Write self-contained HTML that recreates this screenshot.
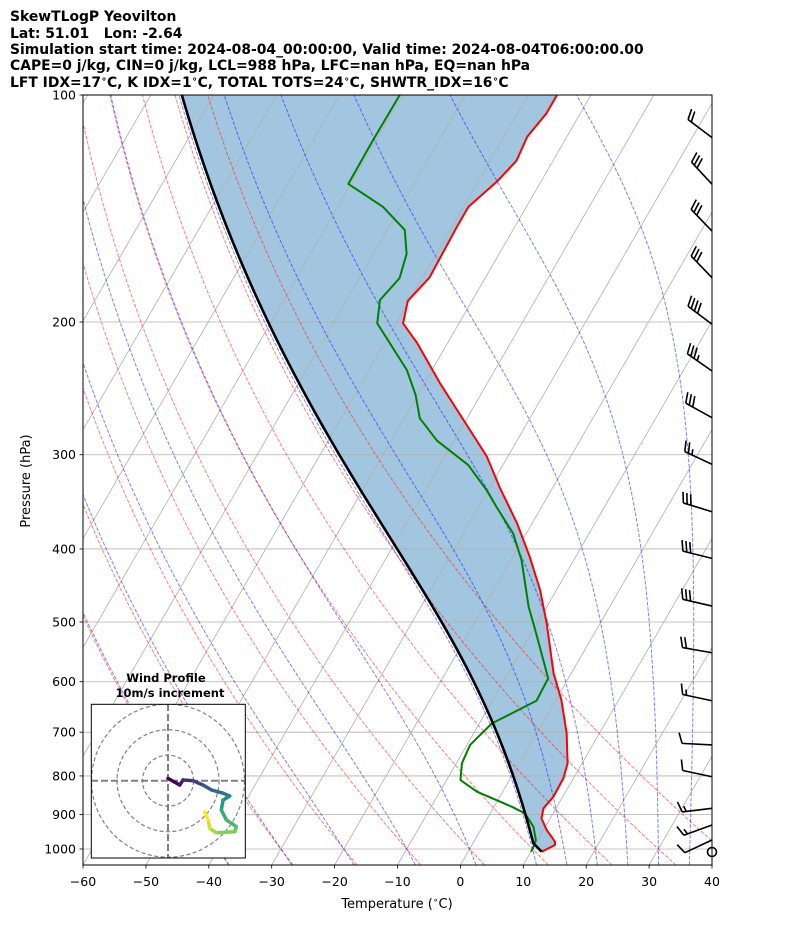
<!DOCTYPE html>
<html><head><meta charset="utf-8"><style>
html,body{margin:0;padding:0;background:#fff;}
svg{display:block;font-family:"DejaVu Sans","Liberation Sans",sans-serif;}
</style></head>
<body>
<svg id="chart" width="794" height="937" viewBox="0 0 794 937" xmlns="http://www.w3.org/2000/svg">
<defs>
<clipPath id="plotclip"><rect x="83" y="95" width="629" height="770"/></clipPath>
<clipPath id="hodoclip"><rect x="91.3" y="704.3" width="154" height="153.7"/></clipPath>
</defs>
<rect x="0" y="0" width="794" height="937" fill="#fff"/>
<g font-size="13.9" font-weight="bold" fill="#000">
<text x="10" y="21">SkewTLogP Yeovilton</text>
<text x="10" y="38" xml:space="preserve">Lat: 51.01   Lon: -2.64</text>
<text x="10" y="54">Simulation start time: 2024-08-04_00:00:00, Valid time: 2024-08-04T06:00:00.00</text>
<text x="10" y="70">CAPE=0 j/kg, CIN=0 j/kg, LCL=988 hPa, LFC=nan hPa, EQ=nan hPa</text>
<text x="10" y="87">LFT IDX=17<tspan dy="-5" font-size="9.5">∘</tspan><tspan dy="5">C, K IDX=1</tspan><tspan dy="-5" font-size="9.5">∘</tspan><tspan dy="5">C, TOTAL TOTS=24</tspan><tspan dy="-5" font-size="9.5">∘</tspan><tspan dy="5">C, SHWTR_IDX=16</tspan><tspan dy="-5" font-size="9.5">∘</tspan><tspan dy="5">C</tspan></text>
</g>
<g id="plot" clip-path="url(#plotclip)"></g>
<g id="axes"></g>
<g id="hodo"></g>
</svg>
<script>
// ---- data ----
const presT = [1008.3,987.9,977.9,943.6,910.7,883.1,852.4,805.9,769.8,702.5,634.6,584.8,501.9,453.4,409.7,369.8,332.4,301.8,286.9,241.2,213.4,200.8,187.5,174.7,149.5,140.7,130.3,122.2,113.6,105.8,100.0];
const tempT = [11.7,13.2,12.9,10.5,8.6,8.0,8.5,8.4,7.7,4.8,0.9,-2.8,-8.5,-12.6,-17.3,-22.4,-28.3,-33.3,-36.5,-47.5,-54.8,-58.9,-60.2,-58.9,-59.2,-59.2,-57.0,-55.8,-56.3,-55.4,-55.4];
const presTd = [1008.3,997.9,972.9,934.2,896.8,878.8,839.5,810.1,769.8,727.8,681.4,635.9,593.8,512.3,477.0,413.8,381.4,351.6,334.1,309.6,287.4,268.4,250.0,231.6,200.8,187.1,175.0,162.5,151.0,140.7,131.2,114.7,100.0];
const dewTd = [10.0,10.0,9.7,8.1,5.5,2.8,-4.1,-7.8,-9.1,-9.5,-8.0,-3.0,-3.2,-9.7,-12.9,-18.3,-22.1,-27.2,-30.3,-35.5,-42.7,-47.5,-50.3,-54.0,-63.0,-64.7,-63.6,-64.7,-67.2,-72.8,-80.4,-80.5,-80.4];
const barbP = [113.9,131.3,151.5,174.7,201.4,232.3,267.9,308.9,357.0,411.7,476.2,549.2,635.9,727.8,802.0,883.1,929.2,972.9,1009.2];
const barbSpd = [20,30,30,30,40,35,30,25,30,30,30,20,15,10,10,15,15,10,0];
const barbDir = [307,317,316,316,307,305,299,295,287,284,283,280,282,273,282,263,250,245,0];
const hodoU = [0,4.6,5.9,9.8,13.7,17.0,21.6,24.2,21.6,20.9,22.9,26.8,26.2,18.9,16.4,15.7,14.4];
const hodoV = [0.9,-1.7,0.3,0,-1.7,-3.6,-4.9,-6.0,-7.6,-11.5,-15.4,-18.0,-20.0,-20.4,-18.7,-15.4,-12.2];
const pTicks = [100,200,300,400,500,600,700,800,900,1000];
const tTicks = [-60,-50,-40,-30,-20,-10,0,10,20,30,40];
const dryT0 = [-40,-30,-20,-10,0,10,20,30,40];
const moistT0 = [-40,-30,-20,-10,0,10,15,20,25,30,35,40];

// ---- axes functions ----
const L=83,R=712,TOP=95,B=865;
function Y(p){return TOP+754*Math.log10(p/100);}
function X(t,p){return L+(t+60)*6.29+0.578*(B-Y(p));}
const NS='http://www.w3.org/2000/svg';
function mk(tag,attrs,parent){const e=document.createElementNS(NS,tag);for(const k in attrs)e.setAttribute(k,attrs[k]);parent.appendChild(e);return e;}
function pathD(pts){return pts.map((q,i)=>(i?'L':'M')+q[0].toFixed(2)+' '+q[1].toFixed(2)).join(' ');}
const plot=document.getElementById('plot');
const axes=document.getElementById('axes');
const hodo=document.getElementById('hodo');

// thermo
function es(tc){return 6.112*Math.exp(17.67*tc/(tc+243.5));}
function rs(tc,p){const e=es(tc);return 0.622*e/(p-e);}
function dT(tc,p){const Tk=tc+273.15,r=rs(tc,p);return (287.04*Tk+2.501e6*r)/(1005.7+2.501e6*2.501e6*r*0.622/(287.04*Tk*Tk));}
function moist(t0,p0,p1,n){const out=[[p0,t0]];let t=t0,lp=Math.log(p0);const h=(Math.log(p1)-lp)/n;
 for(let i=0;i<n;i++){const f=(l,tt)=>dT(tt,Math.exp(l));
  const k1=f(lp,t),k2=f(lp+h/2,t+h*k1/2),k3=f(lp+h/2,t+h*k2/2),k4=f(lp+h,t+h*k3);
  t+=h*(k1+2*k2+2*k3+k4)/6;lp+=h;out.push([Math.exp(lp),t]);}
 return out;}

// parcel
const parcel=[];
(function(){const p0=presT[0],t0=tempT[0],w=rs(dewTd[0],p0);let p=p0,t=t0;
 while(p>100){t=(t0+273.15)*Math.pow(p/p0,0.2857)-273.15;parcel.push([p,t]);if(rs(t,p)<=w)break;p-=0.5;}
 const m=moist(t,p,100,120);for(let i=1;i<m.length;i++)parcel.push(m[i]);})();

// shading between parcel and temperature
{const pts=parcel.map(q=>[X(q[1],q[0]),Y(q[0])]);
 for(let i=presT.length-1;i>=0;i--)pts.push([X(tempT[i],presT[i]),Y(presT[i])]);
 const e=mk('path',{d:pathD(pts)+'Z',fill:'rgb(163,198,224)',stroke:'none'},plot);
 
 }

// isotherm grid
for(let t=-200;t<=40;t+=10){
 const e=mk('line',{x1:X(t,1050),y1:B,x2:X(t,1050)+0.578*770,y2:TOP,stroke:'#b0b0b0','stroke-width':0.8},plot);
 
 }
// pressure grid
pTicks.forEach(p=>{
 const e=mk('line',{x1:L,y1:Y(p),x2:R,y2:Y(p),stroke:'#b0b0b0','stroke-width':0.8},plot);
 
 });

// dry adiabats
dryT0.forEach(t0=>{const pts=[];for(let p=1050;p>=100;p-=10){const t=(t0+273.15)*Math.pow(p/1000,0.2857)-273.15;pts.push([X(t,p),Y(p)]);}
 const e=mk('path',{d:pathD(pts),fill:'none',stroke:'#ff0000','stroke-opacity':0.5,'stroke-width':1,'stroke-dasharray':'3.7 1.6'},plot);
 
 });
// moist adiabats
moistT0.forEach(t0=>{const up=moist(t0,1000,100,80),dn=moist(t0,1000,1050,4);const all=dn.reverse().concat(up.slice(1));
 const e=mk('path',{d:pathD(all.map(q=>[X(q[1],q[0]),Y(q[0])])),fill:'none',stroke:'#0000ff','stroke-opacity':0.5,'stroke-width':1,'stroke-dasharray':'3.7 1.6'},plot);
 
 });

// profiles
{const e=mk('path',{d:pathD(presT.map((p,i)=>[X(tempT[i],p),Y(p)])),fill:'none',stroke:'#ff0000','stroke-width':2,'stroke-linejoin':'round'},plot);
 
 }
{const e=mk('path',{d:pathD(presTd.map((p,i)=>[X(dewTd[i],p),Y(p)])),fill:'none',stroke:'#008000','stroke-width':2,'stroke-linejoin':'round'},plot);
 
 }
{const e=mk('path',{d:pathD(parcel.map(q=>[X(q[1],q[0]),Y(q[0])])),fill:'none',stroke:'#000','stroke-width':2.6},plot);
 
 }

// wind barbs
barbP.forEach((p,i)=>{const y=Y(p),x=712;const g=mk('g',{stroke:'#000','stroke-width':1.6,fill:'none'},axes);
 
 
 const spd=barbSpd[i];
 if(spd<2.5){mk('circle',{cx:x,cy:y,r:4.5},g);return;}
 const a=barbDir[i]*Math.PI/180,ux=Math.sin(a),uy=-Math.cos(a),len=30;
 mk('line',{x1:x,y1:y,x2:x+ux*len,y2:y+uy*len},g);
 const nx=-uy,ny=ux; let sx=nx,sy=ny; if(sy>0){sx=-nx;sy=-ny;}
 const full=Math.floor(spd/10),half=(spd%10)>=5?1:0;let d=len;
 for(let k=0;k<full;k++){const px=x+ux*d,py=y+uy*d;mk('line',{x1:px,y1:py,x2:px+sx*10.5+ux*3.5,y2:py+sy*10.5+uy*3.5},g);d-=4;}
 if(half){if(full===0)d-=4;const px=x+ux*d,py=y+uy*d;mk('line',{x1:px,y1:py,x2:px+sx*5.5+ux*1.8,y2:py+sy*5.5+uy*1.8},g);}
});

// axes frame, ticks
{const e=mk('rect',{x:L,y:TOP,width:R-L,height:B-TOP,fill:'none',stroke:'#000','stroke-width':1},axes);
 
 }
pTicks.forEach(p=>{const y=Y(p);mk('line',{x1:L-3.5,y1:y,x2:L,y2:y,stroke:'#000','stroke-width':0.8},axes);
 const t=mk('text',{x:L-7,y:y+4.5,'text-anchor':'end','font-size':12.5},axes);t.textContent=String(p);
 
 });
tTicks.forEach(tv=>{const x=L+(tv+60)*6.29;mk('line',{x1:x,y1:B,x2:x,y2:B+3.5,stroke:'#000','stroke-width':0.8},axes);
 const t=mk('text',{x:x,y:B+21,'text-anchor':'middle','font-size':12.5},axes);t.textContent=String(tv).replace('-','\u2212');
 
 });
{const t=mk('text',{x:397,y:908,'text-anchor':'middle','font-size':13},axes);
 t.innerHTML='Temperature (<tspan dy="-5" font-size="9">∘</tspan><tspan dy="5">C)</tspan>';
 
 }
{const t=mk('text',{x:0,y:0,'text-anchor':'middle','font-size':13,transform:'translate(30,481) rotate(-90)'},axes);
 t.textContent='Pressure (hPa)';
 
 }

// hodograph inset
{const bg=mk('rect',{x:91.3,y:704.3,width:154,height:153.7,fill:'#fff',stroke:'none'},hodo);
 
 
 const cx=168,cy=780.7,sc=2.55;
 const g=mk('g',{'clip-path':'url(#hodoclip)'},hodo);
 [10,20,30].forEach(r=>{const c=mk('circle',{cx:cx,cy:cy,r:r*sc,fill:'none',stroke:'#808080','stroke-width':1.2,'stroke-dasharray':'4 2.5'},g);
  
  });
 mk('line',{x1:91,y1:cy,x2:246,y2:cy,stroke:'#808080','stroke-width':2,'stroke-dasharray':'7 3'},g);
 mk('line',{x1:cx,y1:704,x2:cx,y2:858,stroke:'#808080','stroke-width':2,'stroke-dasharray':'7 3'},g);
 const stops=[[68,1,84],[59,82,139],[33,145,140],[94,201,98],[253,231,37]];
 function vir(f){const s=f*(stops.length-1),i=Math.min(Math.floor(s),stops.length-2),r=s-i;return 'rgb('+stops[i].map((v,k)=>Math.round(v+(stops[i+1][k]-v)*r)).join(',')+')';}
 for(let i=0;i<hodoU.length-1;i++){
  const e=mk('line',{x1:cx+hodoU[i]*sc,y1:cy-hodoV[i]*sc,x2:cx+hodoU[i+1]*sc,y2:cy-hodoV[i+1]*sc,stroke:vir(i/(hodoU.length-2)),'stroke-width':3.5,'stroke-linecap':'round'},g);
  
  }
 const fr=mk('rect',{x:91.3,y:704.3,width:154,height:153.7,fill:'none',stroke:'#000','stroke-width':1},hodo);
 
 
 const t1=mk('text',{x:166,y:682,'text-anchor':'middle','font-size':11.5,'font-weight':'bold'},hodo);t1.textContent='Wind Profile';
 
 
 const t2=mk('text',{x:170,y:697,'text-anchor':'middle','font-size':11.5,'font-weight':'bold'},hodo);t2.textContent='10m/s increment';
 
 }
</script>
</body></html>
